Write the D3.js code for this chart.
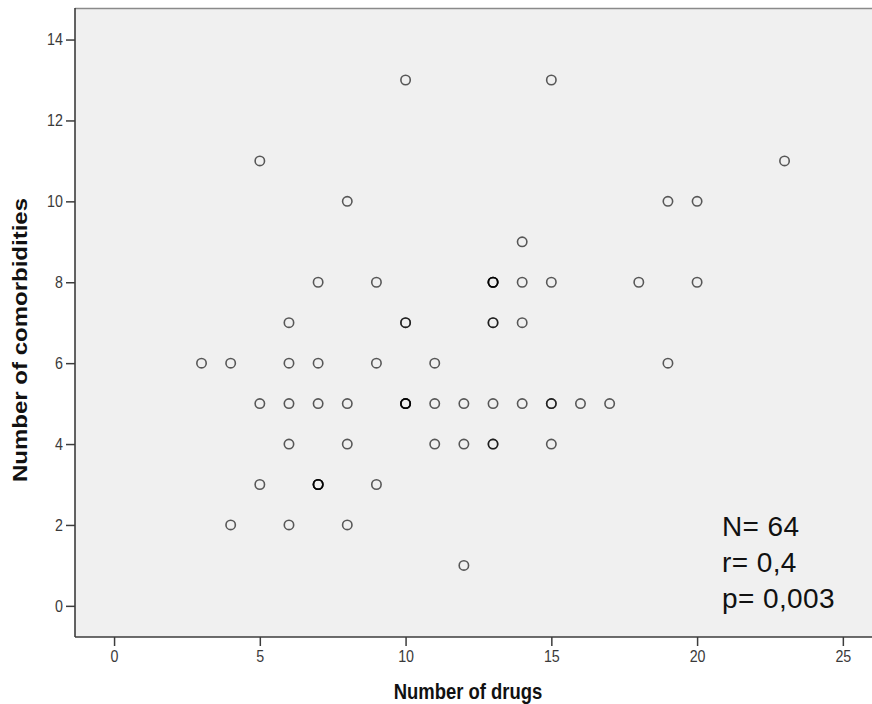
<!DOCTYPE html>
<html>
<head>
<meta charset="utf-8">
<script src="https://cdn.jsdelivr.net/npm/d3@7"></script>
<style>
  html, body { margin: 0; padding: 0; background: #fff; }
  svg { display: block; }
</style>
</head>
<body>
<svg id="chart" width="872" height="704"></svg>
<script>
// Number of drugs per patient (x) and number of comorbidities (y); repeated pairs overlap
const drugs = [10,15,5,23,8,19,20,14,
  7,9,13,13,13,13,14,15,18,20,
  6,10,10,13,13,14,
  3,4,6,7,9,11,19,
  5,6,7,8,10,10,10,10,11,12,13,14,15,15,16,17,
  6,8,11,12,13,13,15,
  5,7,7,7,7,9,
  4,6,8,
  12];
const comorbidities = [13,13,11,11,10,10,10,9,
  8,8,8,8,8,8,8,8,8,8,
  7,7,7,7,7,7,
  6,6,6,6,6,6,6,
  5,5,5,5,5,5,5,5,5,5,5,5,5,5,5,5,
  4,4,4,4,4,4,4,
  3,3,3,3,3,3,
  2,2,2,
  1];
const xTicks = [0, 5, 10, 15, 20, 25];
const yTicks = [0, 2, 4, 6, 8, 10, 12, 14];
const statsLines = ["N= 64", "r= 0,4", "p= 0,003"];

const points = drugs.map((d, i) => ({ x: d, y: comorbidities[i] }));

const svg = d3.select("#chart");
const margin = { left: 75, top: 8, right: 0, bottom: 67 };
const W = 872, H = 704;
const x0 = margin.left, x1 = W - margin.right;
const y0 = margin.top, y1 = H - margin.bottom;

const x = d3.scaleLinear().domain([-1.34, 26.0]).range([x0, x1]);
const y = d3.scaleLinear().domain([-0.77, 14.78]).range([y1, y0]);

const font = "'Liberation Sans', Arial, sans-serif";
const narrow = 0.84; // horizontal squeeze for the condensed axis lettering

// plot background
svg.append("rect")
  .attr("x", x0).attr("y", y0)
  .attr("width", x1 - x0).attr("height", y1 - y0)
  .attr("fill", "#f0f0f0");

// top frame line
svg.append("line")
  .attr("x1", x0).attr("x2", x1).attr("y1", y0 + 0.5).attr("y2", y0 + 0.5)
  .attr("stroke", "#8a8a8a").attr("stroke-width", 1.5);

// y axis
const yAxis = d3.axisLeft(y).tickValues(yTicks).tickSize(9).tickPadding(3).tickSizeOuter(0);
const gy = svg.append("g").attr("transform", `translate(${x0},0)`).call(yAxis);
gy.select(".domain").attr("stroke", "#3c3c3c").attr("stroke-width", 1.6)
  .attr("d", `M0,${y0}V${y1}`);
gy.selectAll(".tick line").attr("stroke", "#3c3c3c").attr("stroke-width", 1.5);
gy.selectAll(".tick text")
  .attr("x", null)
  .attr("transform", `translate(-12,0) scale(${narrow},1)`)
  .attr("font-family", font).attr("font-size", 17).attr("fill", "#3a3a3a");

// x axis
const xAxis = d3.axisBottom(x).tickValues(xTicks).tickSize(9).tickPadding(4).tickSizeOuter(0);
const gx = svg.append("g").attr("transform", `translate(0,${y1})`).call(xAxis);
gx.select(".domain").attr("stroke", "#3c3c3c").attr("stroke-width", 1.6)
  .attr("d", `M${x0},0H${x1}`);
gx.selectAll(".tick line").attr("stroke", "#3c3c3c").attr("stroke-width", 1.5);
gx.selectAll(".tick text")
  .attr("y", null)
  .attr("transform", `translate(0,13) scale(${narrow},1)`)
  .attr("font-family", font).attr("font-size", 17).attr("fill", "#3a3a3a");

// markers: hollow circles, overlapping cases build up darker rings
svg.append("g").selectAll("circle")
  .data(points)
  .join("circle")
  .attr("cx", d => x(d.x))
  .attr("cy", d => y(d.y))
  .attr("r", 4.7)
  .attr("fill", "none")
  .attr("stroke", "#000")
  .attr("stroke-opacity", 0.64)
  .attr("stroke-width", 1.6);

// axis titles
svg.append("text")
  .attr("transform", `translate(468,699) scale(${narrow},1)`)
  .attr("text-anchor", "middle")
  .attr("font-family", font).attr("font-weight", "bold")
  .attr("font-size", 22).attr("fill", "#111")
  .text("Number of drugs");

svg.append("text")
  .attr("transform", "translate(27,340) rotate(-90)")
  .attr("text-anchor", "middle")
  .attr("font-family", font).attr("font-weight", "bold")
  .attr("font-size", 21).attr("fill", "#111")
  .attr("textLength", 284).attr("lengthAdjust", "spacingAndGlyphs")
  .text("Number of comorbidities");

// statistics annotation
svg.append("g").selectAll("text")
  .data(statsLines)
  .join("text")
  .attr("x", 722)
  .attr("y", (d, i) => 536 + i * 36)
  .attr("font-family", font)
  .attr("font-size", 28)
  .attr("letter-spacing", 0.4)
  .attr("fill", "#111")
  .text(d => d);
</script>
</body>
</html>
